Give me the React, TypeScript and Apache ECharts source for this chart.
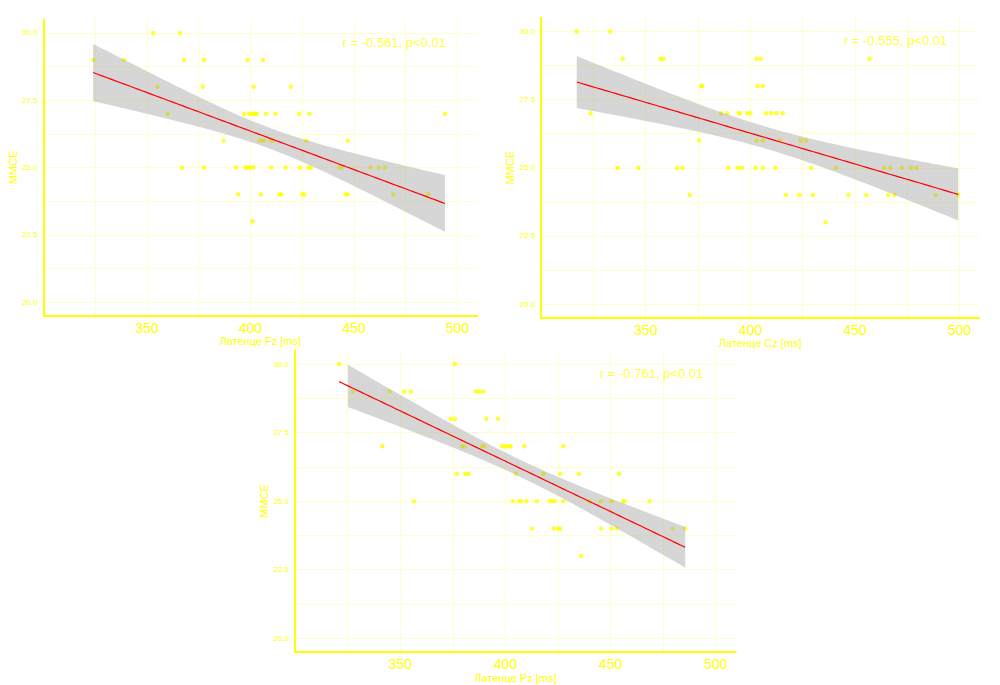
import React, { useEffect, useRef } from "react";
import * as echarts from "echarts";

// ---------- data (latency [ms], MMSE score) ----------
const fzPoints: [number, number][] = [
  [353, 30], [366, 30],
  [324, 29], [339, 29], [368, 29], [377.5, 29], [398.5, 29], [406, 29],
  [355, 28], [377, 28], [401.5, 28], [419.5, 28],
  [360, 27], [397, 27], [399.5, 27], [401, 27], [402, 27], [403, 27], [407.5, 27], [412, 27], [423.5, 27], [428.5, 27], [494, 27],
  [387, 26], [404.5, 26], [405.5, 26], [406.5, 26], [410, 26], [411, 26], [427, 26], [447, 26],
  [367, 25], [377.5, 25], [393, 25], [397.5, 25], [398.5, 25], [400, 25], [401.5, 25], [410, 25], [417, 25], [424, 25], [428, 25], [429, 25], [443, 25], [444, 25], [458, 25], [462, 25], [465, 25],
  [394, 24], [405, 24], [414, 24], [415, 24], [425, 24], [426, 24], [446, 24], [447, 24], [469, 24], [486, 24],
  [401, 23],
];

const czPoints: [number, number][] = [
  [317, 30], [333, 30],
  [339, 29], [357, 29], [358.5, 29], [403, 29], [405, 29], [457, 29],
  [376.5, 28], [377, 28], [403.5, 28], [406, 28],
  [323.5, 27], [386, 27], [389, 27], [394.5, 27], [395, 27], [398.5, 27], [400, 27], [407.5, 27], [410, 27], [412.5, 27], [415.5, 27],
  [375.5, 26], [403, 26], [406, 26], [414, 26], [424, 26], [426.5, 26],
  [336.5, 25], [346.5, 25], [365, 25], [367.5, 25], [389.5, 25], [394, 25], [396, 25], [402.5, 25], [406, 25], [412, 25], [429, 25], [441, 25], [464, 25], [467, 25], [472.5, 25], [477, 25], [479.5, 25],
  [371, 24], [417, 24], [423.5, 24], [430, 24], [447, 24], [455.5, 24], [466, 24], [469, 24], [488.5, 24], [499.5, 24],
  [436, 23],
];

const pzPoints: [number, number][] = [
  [321, 30], [376, 30],
  [327.5, 29], [345, 29], [352, 29], [355, 29], [386, 29], [387.5, 29], [389.5, 29],
  [374, 28], [376, 28], [391, 28], [396.5, 28],
  [341.5, 27], [379.5, 27], [380.5, 27], [389, 27], [390, 27], [398.5, 27], [400, 27], [401.5, 27], [402.5, 27], [409, 27], [427.5, 27],
  [377, 26], [381, 26], [382.5, 26], [405, 26], [418, 26], [426, 26], [435, 26], [454, 26],
  [356.5, 25], [403.5, 25], [406.5, 25], [407.5, 25], [410, 25], [415, 25], [421, 25], [422, 25], [423.5, 25], [427.5, 25], [440, 25], [445.5, 25], [450.5, 25], [456, 25], [456.5, 25], [468.5, 25],
  [412.5, 24], [423, 24], [425, 24], [426, 24], [445.5, 24], [450.5, 24], [453, 24], [479.5, 24], [485.5, 24],
  [436, 23],
];

const panelNames = ["Латенце Fz [ms]", "Латенце Cz [ms]", "Латенце Pz [ms]"];
const annotations = ["r = -0.561, p<0.01", "r = -0.555, p<0.01", "r = -0.761, p<0.01"];
const annotationPos: [number, number] = [469.5, 29.66];
const yName = "ММСЕ";

const xTickLabels = [350, 400, 450, 500];
const xGridValues = [325, 350, 375, 400, 425, 450, 475, 500];
const yTickLabels = [20, 22.5, 25, 27.5, 30];
const yGridValues = [20, 21.25, 22.5, 23.75, 25, 26.25, 27.5, 28.75, 30];
const yLimits: [number, number] = [20, 30];

// ---------- layout ----------
const grids = [
  { left: 43.5, top: 19.5, width: 433.5, height: 296 },
  { left: 541.2, top: 17.8, width: 438, height: 300 },
  { left: 295, top: 350.3, width: 440.7, height: 301.7 },
];

const YELLOW = "#FFFF00";
const GRIDC = "#FFFFCC";

// linear model fit with 95% confidence band (as geom_smooth(method = "lm"))
function lmFit(points: [number, number][]) {
  const n = points.length;
  const xs = points.map((p) => p[0]);
  const ys = points.map((p) => p[1]);
  const xbar = xs.reduce((a, b) => a + b, 0) / n;
  const ybar = ys.reduce((a, b) => a + b, 0) / n;
  let sxx = 0;
  let sxy = 0;
  for (let i = 0; i < n; i++) {
    sxx += (xs[i] - xbar) ** 2;
    sxy += (xs[i] - xbar) * (ys[i] - ybar);
  }
  const b = sxy / sxx;
  const a = ybar - b * xbar;
  let sse = 0;
  for (let i = 0; i < n; i++) sse += (ys[i] - a - b * xs[i]) ** 2;
  const s = Math.sqrt(sse / (n - 2));
  const t = 2.003;
  const xmin = Math.min(...xs);
  const xmax = Math.max(...xs);
  const line: [number, number][] = [];
  const band: [number, number, number][] = [];
  const steps = 80;
  for (let i = 0; i < steps; i++) {
    const x = xmin + ((xmax - xmin) * i) / (steps - 1);
    const yhat = a + b * x;
    const se = s * Math.sqrt(1 / n + (x - xbar) ** 2 / sxx);
    line.push([x, yhat]);
    const lo = yhat - t * se;
    const hi = yhat + t * se;
    if (hi <= yLimits[1] && lo >= yLimits[0]) band.push([x, lo, hi]);
  }
  return { line, band };
}

export default function App() {
  const ref = useRef<HTMLDivElement>(null);

  useEffect(() => {
    if (!ref.current) return;
    const chart = echarts.init(ref.current, undefined, { renderer: "svg" });
    const panels = [fzPoints, czPoints, pzPoints];

    const xAxes: any[] = [];
    const yAxes: any[] = [];
    const series: any[] = [];

    panels.forEach((pts, i) => {
      const { line, band } = lmFit(pts);
      xAxes.push({
        type: "value",
        gridIndex: i,
        min: 300,
        max: 509.5,
        name: panelNames[i],
        nameLocation: "middle",
        nameGap: 20,
        nameTextStyle: { color: YELLOW, fontSize: 11 },
        axisLine: { show: true, onZero: false, lineStyle: { color: YELLOW, width: 2 } },
        axisTick: { show: false, customValues: xGridValues },
        axisLabel: { color: YELLOW, fontSize: 14, margin: 5, customValues: xTickLabels },
        splitLine: { show: true, lineStyle: { color: GRIDC, width: 1 } },
      });
      yAxes.push({
        type: "value",
        gridIndex: i,
        min: 19.5,
        max: 30.5,
        name: yName,
        nameLocation: "middle",
        nameGap: 23,
        nameRotate: 90,
        nameTextStyle: { color: YELLOW, fontSize: 11 },
        axisLine: { show: true, onZero: false, lineStyle: { color: YELLOW, width: 2 } },
        axisTick: { show: false, customValues: yGridValues },
        axisLabel: {
          color: YELLOW,
          fontSize: 8,
          margin: 6,
          customValues: yTickLabels,
          formatter: (v: number) => v.toFixed(1),
        },
        splitLine: { show: true, lineStyle: { color: GRIDC, width: 1 } },
      });
      series.push({
        type: "scatter",
        xAxisIndex: i,
        yAxisIndex: i,
        data: pts,
        symbolSize: 4.5,
        itemStyle: { color: YELLOW },
        z: 2,
        silent: true,
      });
      series.push({
        type: "custom",
        xAxisIndex: i,
        yAxisIndex: i,
        data: [[band[0][0], band[0][1]]],
        silent: true,
        z: 3,
        renderItem: (params: any, api: any) => {
          const upper = band.map((p) => api.coord([p[0], p[2]]));
          const lower = band
            .slice()
            .reverse()
            .map((p) => api.coord([p[0], p[1]]));
          return {
            type: "polygon",
            shape: { points: upper.concat(lower) },
            style: { fill: "rgba(153,153,153,0.4)" },
          };
        },
      });
      series.push({
        type: "line",
        xAxisIndex: i,
        yAxisIndex: i,
        data: line,
        showSymbol: false,
        symbol: "none",
        lineStyle: { color: "#FF0000", width: 1.2 },
        z: 4,
        silent: true,
      });
      series.push({
        type: "scatter",
        xAxisIndex: i,
        yAxisIndex: i,
        data: [annotationPos],
        symbolSize: 1,
        itemStyle: { color: "rgba(0,0,0,0)" },
        label: {
          show: true,
          position: "inside",
          formatter: annotations[i],
          color: YELLOW,
          fontSize: 13,
        },
        z: 5,
        silent: true,
      });
    });

    chart.setOption({
      animation: false,
      backgroundColor: "#FFFFFF",
      textStyle: { fontFamily: "Liberation Sans, Arial, sans-serif" },
      grid: grids.map((g) => ({ ...g, containLabel: false })),
      xAxis: xAxes,
      yAxis: yAxes,
      series,
    });

    return () => chart.dispose();
  }, []);

  return (
    <div
      ref={ref}
      style={{ position: "absolute", left: 0, top: 0, width: 1000, height: 685 }}
    />
  );
}
